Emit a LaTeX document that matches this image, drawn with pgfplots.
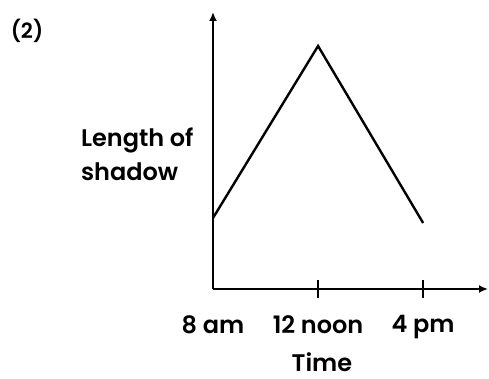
\documentclass[border=0pt]{standalone}
\usepackage{pgfplots}
\pgfplotsset{compat=1.18}
\usepackage{fontspec}
\setmainfont{Poppins}[BoldFont={* SemiBold}]
\usetikzlibrary{arrows.meta}

\begin{document}
\begin{tikzpicture}[x=1pt,y=1pt,font=\bfseries]
  \path[use as bounding box] (0,0) rectangle (489,379);
  \node[font=\bfseries\fontsize{21}{23}\selectfont] at (27,348) {(2)};
  \begin{axis}[
    at={(213pt,90pt)}, anchor=south west,
    scale only axis, width=275pt, height=277pt,
    xmin=8, xmax=18.47, ymin=0, ymax=277,
    axis lines=left,
    axis line style={line width=2.4pt, -{Latex[length=9pt,width=8pt]}},
    xtick={12,16}, xticklabels={12 noon, 4 pm},
    extra x ticks={8}, extra x tick labels={8 am},
    extra x tick style={major tick length=0pt, xticklabel style={yshift=-9pt}},
    ytick=\empty,
    tick align=center, major tick length=18pt,
    tick style={line width=1.6pt, black},
    xticklabel style={font=\bfseries\fontsize{24}{26}\selectfont, yshift=-14pt},
    xlabel={Time},
    xlabel style={font=\bfseries\fontsize{24}{26}\selectfont, at={(axis description cs:0.396,-0.264)}, anchor=center},
    ylabel={Length of\\shadow},
    ylabel style={font=\bfseries\fontsize{24}{34}\selectfont, rotate=-90, align=left,
      at={(axis description cs:-0.058,0.485)}, anchor=east},
    clip=false,
  ]
    \addplot[line width=2.4pt, black, mark=none] coordinates {
      (8,71) (12,243) (16,66)
    };
  \end{axis}
\end{tikzpicture}
\end{document}
